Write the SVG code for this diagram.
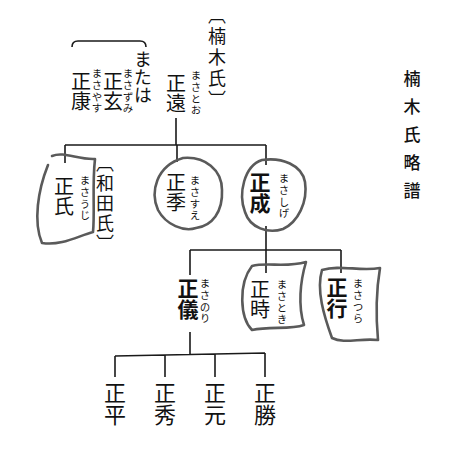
<svg xmlns="http://www.w3.org/2000/svg" width="451" height="462" viewBox="0 0 451 462">
<style>
text{font-family:"Noto Sans CJK JP","Noto Sans CJK SC",sans-serif;fill:#111;writing-mode:vertical-rl}
.n{font-size:20px;font-weight:400}
.m{font-size:22px;font-weight:400}
.b{font-size:21px;font-weight:700}
.r{font-size:10.5px;letter-spacing:1.2px}
.t{font-size:17px;font-weight:500}
.k{font-size:18px}
.ln{fill:none;stroke:#1a1a1a;stroke-width:1.6}
.rough{fill:none;stroke:#5a5a5a;stroke-width:2.6;stroke-linecap:round;stroke-linejoin:round}
</style>
<rect width="451" height="462" fill="#fff"/>
<g id="title"><text class="t" x="412" y="70" letter-spacing="11">楠木氏略譜</text></g>
<g id="connectors">
<path class="ln" d="M72,47 Q72,41 78,41 L140,41 Q146,41 146,47"/>
<path class="ln" d="M176,118 V145 M65,145 H266 M65,145 V163 M177,145 V162 M266,145 V165"/>
<path class="ln" d="M266,226 V250 M190,250 H341 M190,250 V275 M266,250 V273 M341,250 V273"/>
<path class="ln" d="M190,332 V355 M115,356 L265,353 M115,356 V377 M165,355 V377 M215,354 V377 M265,353 V377"/>
</g>
<g id="kusunoki"><text class="k" x="217" y="6" letter-spacing="3">〔楠木氏〕</text></g>
<g id="masato"><text class="n" x="176" y="73">正遠</text><text class="r" x="196" y="70">まさとお</text></g>
<g id="matawa"><text class="k" x="143" y="50">または</text></g>
<g id="masazumi"><text class="n" x="113" y="71">正玄</text><text class="r" x="128" y="68">まさずみ</text></g>
<g id="masayasu"><text class="n" x="81" y="71">正康</text><text class="r" x="97" y="68">まさやす</text></g>
<g id="masauji">
<path class="rough" d="M52,156 C64,151 78,160 95,159 C92,185 95,212 93,232 C78,236 62,246 42,243 C33,222 38,190 48,165"/>
<text class="n" x="64" y="176">正氏</text><text class="r" x="85" y="175">まさうじ</text>
<text class="k" x="105" y="154" letter-spacing="2">〔和田氏〕</text>
</g>
<g id="masasue">
<path class="rough" d="M183,158 C205,156 222,170 222,190 C223,212 212,226 196,228 C184,232 166,225 158,210 C150,192 156,166 183,158 Z"/>
<text class="n" x="176" y="172">正季</text><text class="r" x="195" y="175">まさすえ</text>
</g>
<g id="masashige">
<path class="rough" d="M262,160 C282,157 302,165 305,182 C308,202 298,222 283,229 C268,234 250,228 245,212 C238,194 244,166 262,160 Z"/>
<text class="b" x="260" y="172">正成</text><text class="r" x="284" y="173">まさしげ</text>
</g>
<g id="masanori">
<text class="b" x="188" y="278">正儀</text><text class="r" x="205" y="278">まさのり</text>
</g>
<g id="masatoki">
<path class="rough" d="M252,266 C268,262 285,268 306,262 C300,282 298,306 304,325 C290,330 270,326 252,330 C240,318 238,284 252,266 Z"/>
<text class="n" x="260" y="279">正時</text><text class="r" x="282" y="279">まさとき</text>
</g>
<g id="masatsura">
<path class="rough" d="M322,270 C340,264 360,272 380,268 C376,292 376,318 378,340 C360,338 344,344 332,338 C324,316 316,290 322,270 Z"/>
<text class="b" x="337" y="277">正行</text><text class="r" x="358" y="278">まさつら</text>
</g>
<g id="masahira"><text class="m" x="115" y="382">正平</text></g>
<g id="masahide"><text class="m" x="165" y="382">正秀</text></g>
<g id="masamoto"><text class="m" x="215" y="382">正元</text></g>
<g id="masakatsu"><text class="m" x="265" y="382">正勝</text></g>
</svg>
